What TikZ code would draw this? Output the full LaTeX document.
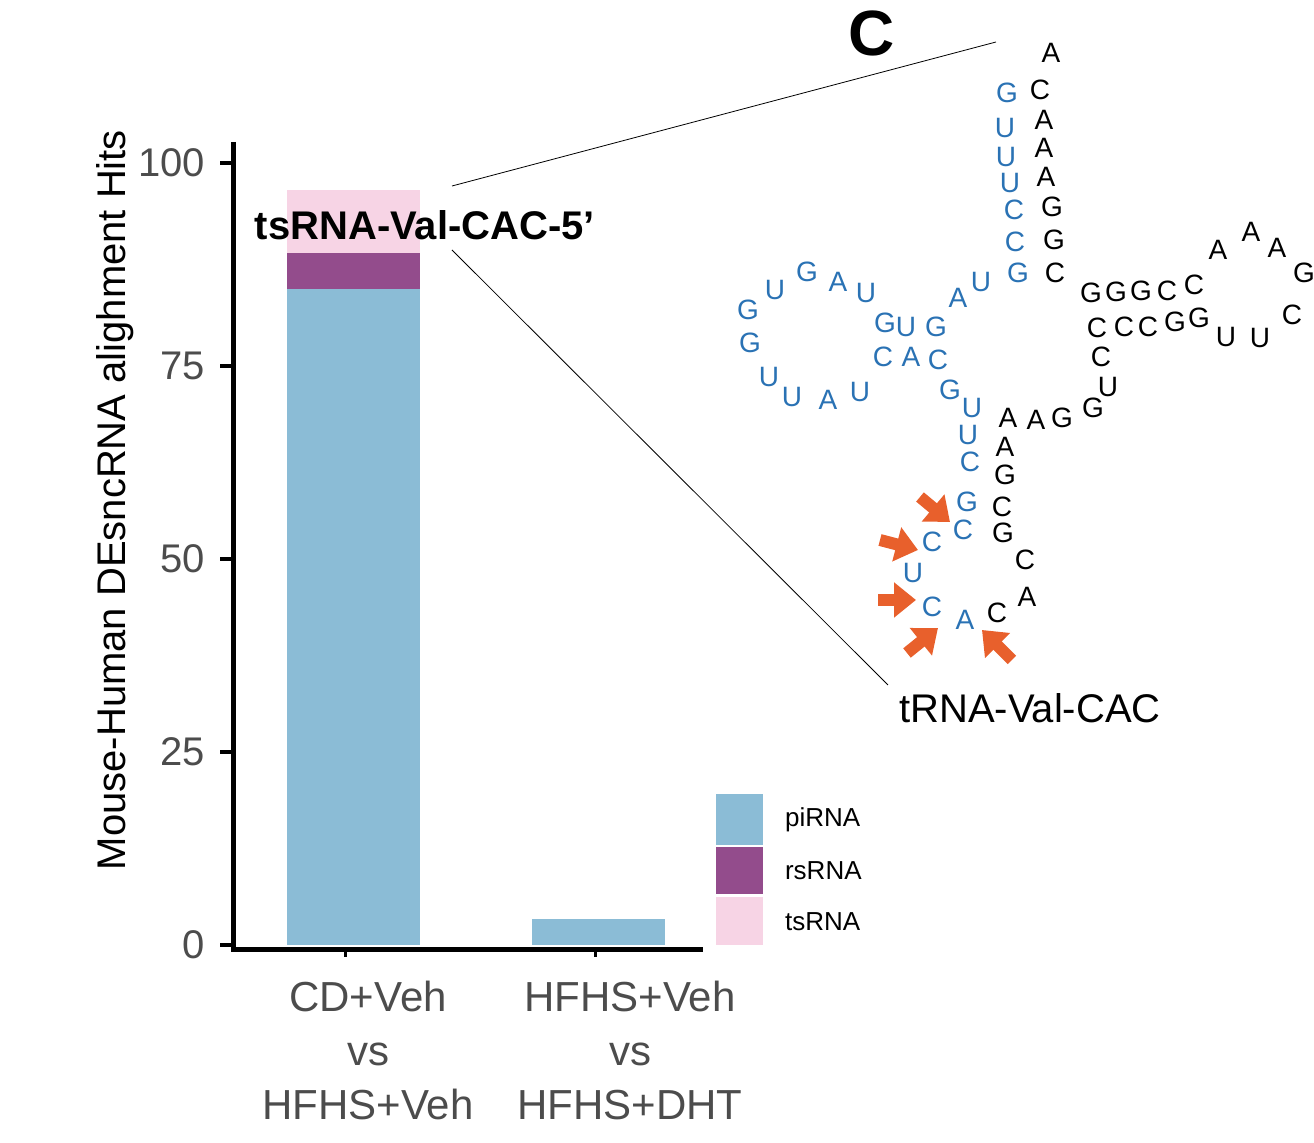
\documentclass[tikz,border=0pt]{standalone}
\usepackage{fontspec}
\setmainfont{Liberation Sans}
\usetikzlibrary{arrows.meta}
\definecolor{piblue}{HTML}{8BBCD6}
\definecolor{rspurple}{HTML}{934C8C}
\definecolor{tspink}{HTML}{F7D4E5}
\definecolor{ntblue}{HTML}{2A72B4}
\definecolor{cutorange}{HTML}{E8602C}
\tikzset{
  nt/.style={inner sep=0pt,font=\fontsize{14}{14}\selectfont},
  ticklab/.style={anchor=east,text=black!70,font=\fontsize{20}{20}\selectfont},
  catlab/.style={align=center,text=black!70,font=\fontsize{21}{27}\selectfont},
  leglab/.style={anchor=west,font=\fontsize{13}{13}\selectfont},
  cut/.style={-{Triangle[length=11pt,width=17pt]},line width=6pt,cutorange}
}
\begin{document}
\begin{tikzpicture}[x=0.5pt,y=-0.5pt]
		\useasboundingbox (0,0) rectangle (1314,1143);
		% bars
		\fill[piblue] (287,945) rectangle (420,289);
		\fill[rspurple] (287,289) rectangle (420,253);
		\fill[tspink] (287,253) rectangle (420,190);
		\fill[piblue] (532,945) rectangle (665,919);
		% axes
		\draw[line width=2.5pt] (233,142) -- (233,950) -- (703,950);
		\foreach \v/\y in {100/163,75/366,50/559,25/752,0/945}{
			\draw[line width=2pt] (220,\y) -- (233,\y);
			\node[ticklab] (t\v) at (212,\y) {\v};
		}
		\foreach \x in {345,595} \draw[line width=1.5pt] (\x,950) -- (\x,957);
		\node[rotate=90,font=\fontsize{20}{20}\selectfont] (ylab) at (115,500) {Mouse-Human DEsncRNA alighment Hits};
		\node[catlab] (cat1) at (368,1050) {CD+Veh\\vs\\HFHS+Veh};
		\node[catlab] (cat2) at (630,1050) {HFHS+Veh\\vs\\HFHS+DHT};
		% legend
		\fill[piblue] (716,794) rectangle (763,845);
		\fill[rspurple] (716,847) rectangle (763,894);
		\fill[tspink] (716,897) rectangle (763,945);
		\node[leglab] (lpi) at (778,820) {piRNA};
		\node[leglab] (lrs) at (778,871) {rsRNA};
		\node[leglab] (lts) at (778,922) {tsRNA};
		\node[font=\bfseries\fontsize{20}{20}\selectfont] (frag) at (425,225) {tsRNA-Val-CAC-5’};
		\node[font=\bfseries\fontsize{32}{32}\selectfont] (panel) at (872,33) {C};
		% zoom lines
		\coordinate (z1) at (452,186);
		\coordinate (z2) at (452,250);
		\coordinate (z3) at (996,42);
		\coordinate (z4) at (888,685);
		\draw[thin] (z1) -- (z3);
		\draw[thin] (z2) -- (z4);
		% tRNA letters, blue part
		\foreach[count=\i] \x/\y/\b in {1007/93/G,1005/128/U,1006/157/U,1010/183/U,1014/210/C,1015/242/C,1018/273/G,
			981/282/U,958/298/A,936/327/G,906/327/U,885/323/G,866/293/U,838/282/A,807/272/G,775/290/U,748/310/G,
			750/343/G,769/377/U,792/397/U,828/400/A,860/392/U,883/357/C,911/357/A,938/360/C,950/390/G,972/408/U,
			968/435/U,970/462/C,967/502/G,963/530/C,932/542/C,913/573/U,932/607/C,965/620/A}
			\node[nt,ntblue] (b\i) at (\x,\y) {\b};
		% tRNA letters, black part
		\foreach[count=\i] \x/\y/\b in {997/613/C,1027/597/A,1025/560/C,1003/533/G,1002/507/C,1005/475/G,1005/447/A,
			1008/418/A,1036/420/A,1062/418/G,1093/408/G,1108/387/U,1101/357/C,1097/328/C,1124/327/C,1148/327/C,
			1175/322/G,1199/318/G,1226/337/U,1260/338/U,1292/315/C,1304/273/G,1277/248/A,1251/232/A,1218/250/A,
			1194/285/C,1167/291/C,1141/291/G,1116/292/G,1091/293/G,1055/273/C,1054/240/G,1052/207/G,1046/177/A,
			1044/148/A,1044/120/A,1040/90/C,1051/53/A}
			\node[nt] (k\i) at (\x,\y) {\b};
		\node[font=\fontsize{20}{20}\selectfont] (trna) at (1030,708) {tRNA-Val-CAC};
		% cleavage sites
		\foreach \sx/\sy/\ex/\ey [count=\i] in {920/497/950/522,880/540/918/550,878/600/916/600,907/653/938/628,1012/660/982/630}{
			\coordinate (s\i) at (\sx,\sy);
			\coordinate (e\i) at (\ex,\ey);
			\draw[cut] (s\i) -- (e\i);
		}
\end{tikzpicture}
\end{document}
